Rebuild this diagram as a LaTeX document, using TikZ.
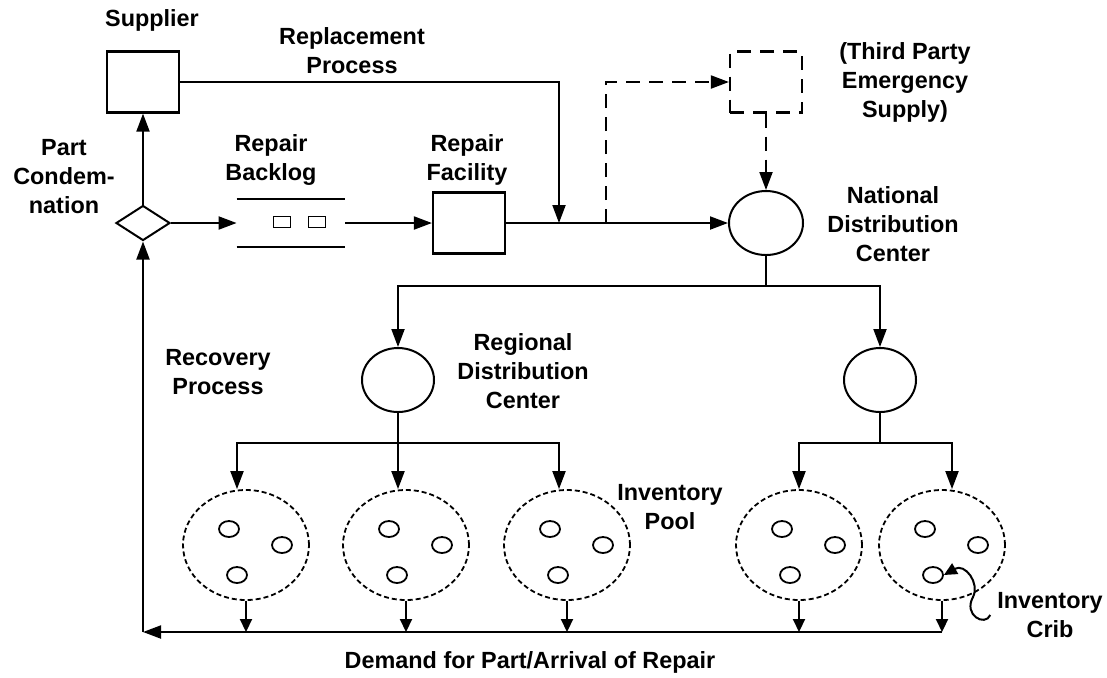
\documentclass[tikz,border=0pt]{standalone}
\usepackage{fontspec}
\setmainfont{Liberation Sans}
\usetikzlibrary{shapes.geometric,arrows.meta,positioning,calc}

\tikzset{
  box/.style={draw, rectangle, line width=1.1pt, minimum width=36pt, minimum height=30.5pt, inner sep=0pt},
  hub/.style={draw, ellipse, line width=1pt, minimum width=36pt, minimum height=32pt, inner sep=0pt},
  pool/.style={draw, ellipse, dash pattern=on 2.5pt off 1.5pt, line width=0.9pt, minimum width=63pt, minimum height=55pt, inner sep=0pt},
  crib/.style={draw, ellipse, line width=0.9pt, minimum width=10pt, minimum height=8pt, inner sep=0pt},
  job/.style={draw, rectangle, line width=0.9pt, minimum width=8.5pt, minimum height=5.5pt, inner sep=0pt},
  lbl/.style={align=center, font=\fontsize{11.7}{14.5}\selectfont\bfseries},
  link/.style={line width=1pt},
  flow/.style={link, -{Triangle[length=9pt,width=6.5pt]}},
  drop/.style={link, -{Triangle[length=6.5pt,width=6pt]}},
  emerg/.style={dash pattern=on 7pt off 4.5pt},
}

\begin{document}
\begin{tikzpicture}[x=0.5pt, y=-0.5pt]
  \useasboundingbox (0,0) rectangle (1107,677);

  % Supplier and condemnation decision
  \node[box] (sup) at (143,82) {};
  \node[lbl] at (152,20) {Supplier};
  \node[draw, diamond, line width=1pt, minimum width=27pt, minimum height=17.5pt, inner sep=0pt] (cond) at (143,223) {};
  \node[lbl] at (64,177) {Part\\Condem-\\nation};
  \node[lbl] at (352,51) {Replacement\\Process};

  % Repair backlog queue
  \node[minimum width=54pt, minimum height=23.5pt, inner sep=0pt] (backlog) at (291,223) {};
  \draw[link] (backlog.north west) -- (backlog.north east);
  \draw[link] (backlog.south west) -- (backlog.south east);
  \node[job] (job1) at (282,222) {};
  \node[job] (job2) at (317,222) {};
  \node[lbl] at (271,160) {Repair\\Backlog};

  % Repair facility
  \node[box] (rep) at (469,223) {};
  \node[lbl] at (467,160) {Repair\\Facility};

  % Emergency supply and national center
  \node[box, emerg] (tps) at (766,82) {};
  \node[lbl] at (905,82) {(Third Party\\Emergency\\Supply)};
  \node[hub, minimum width=37pt] (ndc) at (766,223) {};
  \node[lbl] at (893,224) {National\\Distribution\\Center};

  \coordinate (jr) at (559,223);
  \coordinate (je) at (606,223);

  \draw[flow] (cond) -- (sup);
  \draw[flow] (cond.east) -- (backlog.west);
  \draw[flow] (backlog.east) -- (rep.west);
  \draw[flow] (rep.east) -- (ndc.west);
  \draw[flow] (sup.east) -| (jr);
  \draw[flow, emerg] (je) |- (tps.west);
  \draw[flow, emerg] (tps) -- (ndc);

  % Regional centers
  \coordinate (nb) at (766,286);
  \node[hub] (rdc1) at (398,380) {};
  \node[hub] (rdc2) at (880,380) {};
  \node[lbl] at (523,371) {Regional\\Distribution\\Center};
  \node[lbl] at (218,372) {Recovery\\Process};
  \draw[link] (ndc.south) -- (nb);
  \draw[flow] (nb) -| (rdc1.north);
  \draw[flow] (nb) -| (rdc2.north);

  % Inventory pools with their cribs
  \foreach \n/\x in {1/246, 2/406, 3/567, 4/799, 5/942} {
    \node[pool] (pool\n) at (\x,545) {};
    \node[crib] (pool\n-1) at ($(pool\n)+(-17,-16)$) {};
    \node[crib] (pool\n-2) at ($(pool\n)+(36,0)$) {};
    \node[crib] (pool\n-3) at ($(pool\n)+(-9,30)$) {};
  }
  \node[lbl] at (670,507) {Inventory\\Pool};

  \coordinate (lb) at (398,443);
  \coordinate (rb) at (880,443);
  \draw[link] (rdc1.south) -- (lb);
  \draw[link] (rdc2.south) -- (rb);
  \foreach \p/\dx in {1/-4.5pt, 2/-4pt, 3/-4pt}
    \draw[flow] (lb) -| ([xshift=\dx]pool\p.north);
  \draw[flow] (rb) -| (pool4.north);
  \draw[flow] (rb) -| ([xshift=5pt]pool5.north);

  % Demand return loop
  \coordinate (ret) at (143,632);
  \foreach \p in {1,...,5}
    \draw[drop] (pool\p.south) -- (pool\p.south |- ret);
  \draw[flow] (pool5.south |- ret) -- (ret);
  \draw[flow] (ret) -- (cond.south);
  \node[lbl] at (530,662) {Demand for Part/Arrival of Repair};

  % Crib callout
  \node[lbl] (cribtxt) at (1050,615) {Inventory\\Crib};
  \draw[drop] (cribtxt.west) .. controls (985,627) and (963,615) .. (973,597)
    .. controls (980,583) and (965,563) .. (pool5-3.east);
\end{tikzpicture}
\end{document}
